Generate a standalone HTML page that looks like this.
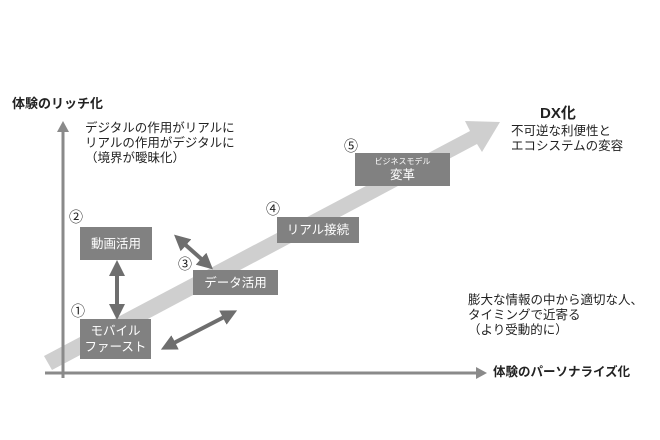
<!DOCTYPE html>
<html><head><meta charset="utf-8"><style>
body{margin:0;width:660px;height:440px;background:#fff;position:relative;overflow:hidden;font-family:"Liberation Sans","Noto Sans CJK JP",sans-serif;color:#222}
.t{position:absolute;white-space:nowrap;font-size:12.5px;line-height:15px}
.n{position:absolute;white-space:nowrap;font-family:"Noto Sans CJK JP",sans-serif;font-size:14px;line-height:15px}
.b{font-weight:bold}
.box{position:absolute;background:#818181;color:#fff;display:flex;flex-direction:column;align-items:center;justify-content:center;font-size:12.5px;line-height:16px;text-align:center}
</style></head><body>
<svg width="660" height="440" style="position:absolute;left:0;top:0">
<defs><marker id="h" markerWidth="4" markerHeight="4" refX="2" refY="2" orient="auto-start-reverse"><path d="M0,0L4,2L0,4z" fill="#6e6e6e"/></marker></defs>
<polygon points="44,356 470,131 465,121 500,122 482,152 477,144 52,370" fill="#cfcfcf"/>
<line x1="63" y1="378" x2="63" y2="130" stroke="#8a8a8a" stroke-width="3"/>
<polygon points="57,132 63,121 69,132" fill="#8a8a8a"/>
<line x1="45" y1="373" x2="478" y2="373" stroke="#8a8a8a" stroke-width="3"/>
<polygon points="476,367 487,373 476,379" fill="#8a8a8a"/>
<line x1="117" y1="268" x2="117" y2="312" stroke="#6e6e6e" stroke-width="4" marker-start="url(#h)" marker-end="url(#h)"/>
<line x1="180" y1="240" x2="207" y2="264" stroke="#6e6e6e" stroke-width="4" marker-start="url(#h)" marker-end="url(#h)"/>
<line x1="168" y1="346" x2="230" y2="314" stroke="#6e6e6e" stroke-width="4" marker-start="url(#h)" marker-end="url(#h)"/>
</svg>
<div class="t b" style="left:12px;top:96px;font-size:13px">体験のリッチ化</div>
<div class="t" style="left:85px;top:121px">デジタルの作用がリアルに<br>リアルの作用がデジタルに<br>（境界が曖昧化）</div>
<div class="t b" style="left:540px;top:106px;font-size:15px">DX化</div>
<div class="t" style="left:511px;top:124px">不可逆な利便性と<br>エコシステムの変容</div>
<div class="t" style="left:468px;top:293px">膨大な情報の中から適切な人、<br>タイミングで近寄る<br>（より受動的に）</div>
<div class="t b" style="left:493px;top:365px;font-size:12.5px">体験のパーソナライズ化</div>
<div class="n" style="left:69px;top:210px">②</div>
<div class="n" style="left:71px;top:304px">①</div>
<div class="n" style="left:178px;top:257px">③</div>
<div class="n" style="left:266px;top:202px">④</div>
<div class="n" style="left:344px;top:139px">⑤</div>
<div class="box" style="left:80px;top:227px;width:72px;height:33px">動画活用</div>
<div class="box" style="left:80px;top:319px;width:71px;height:40px">モバイル<br>ファースト</div>
<div class="box" style="left:193px;top:270px;width:85px;height:25px">データ活用</div>
<div class="box" style="left:277px;top:217px;width:82px;height:26px">リアル接続</div>
<div class="box" style="left:355px;top:153px;width:95px;height:33px"><span style="font-size:8px;line-height:10px">ビジネスモデル</span><span>変革</span></div>
</body></html>
